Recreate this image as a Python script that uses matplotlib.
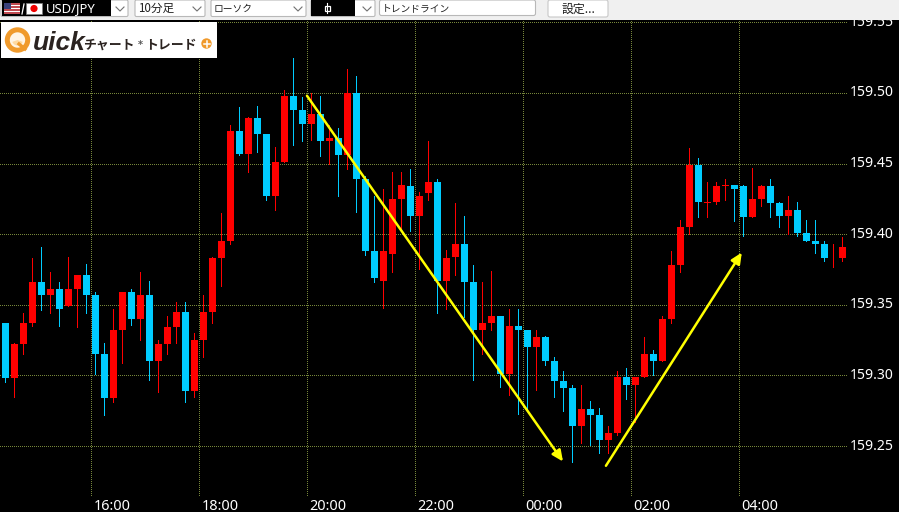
import numpy as np
import matplotlib
matplotlib.use("Agg")
import matplotlib.pyplot as plt
from matplotlib.patches import Rectangle, Circle, FancyBboxPatch, Wedge
from matplotlib.transforms import ScaledTranslation

W, H = 899, 512
CJK = ['Noto Sans CJK JP', 'DejaVu Sans']

# 10 minute USD/JPY candles, first candle is index 0
opens = [159.337, 159.298, 159.322, 159.337, 159.366, 159.357, 159.361, 159.349, 159.361, 159.371,
         159.357, 159.315, 159.284, 159.332, 159.359, 159.340, 159.357, 159.310, 159.322, 159.334,
         159.345, 159.289, 159.325, 159.345, 159.383, 159.395, 159.473, 159.457, 159.482, 159.471,
         159.427, 159.451, 159.498, 159.488, 159.478, 159.485, 159.466, 159.468, 159.456, 159.500,
         159.439, 159.388, 159.367, 159.386, 159.425, 159.434, 159.413, 159.429, 159.437, 159.367,
         159.384, 159.393, 159.366, 159.332, 159.337, 159.342, 159.301, 159.335, 159.332, 159.320,
         159.327, 159.310, 159.296, 159.291, 159.264, 159.276, 159.272, 159.254, 159.259, 159.299,
         159.293, 159.299, 159.315, 159.310, 159.340, 159.378, 159.405, 159.449, 159.422, 159.423,
         159.434, 159.435, 159.434, 159.412, 159.425, 159.434, 159.422, 159.413, 159.417, 159.401,
         159.395, 159.393, 159.383, 159.383]
highs = [159.337, 159.323, 159.344, 159.383, 159.391, 159.373, 159.366, 159.384, 159.371, 159.379,
         159.359, 159.323, 159.347, 159.359, 159.361, 159.373, 159.367, 159.325, 159.342, 159.352,
         159.352, 159.330, 159.357, 159.384, 159.415, 159.477, 159.490, 159.483, 159.491, 159.471,
         159.462, 159.502, 159.525, 159.497, 159.500, 159.498, 159.477, 159.475, 159.517, 159.512,
         159.441, 159.427, 159.432, 159.444, 159.444, 159.446, 159.430, 159.466, 159.439, 159.389,
         159.422, 159.413, 159.378, 159.366, 159.374, 159.342, 159.347, 159.347, 159.332, 159.332,
         159.328, 159.313, 159.303, 159.293, 159.293, 159.282, 159.277, 159.264, 159.303, 159.305,
         159.299, 159.327, 159.318, 159.342, 159.388, 159.410, 159.461, 159.454, 159.437, 159.437,
         159.439, 159.435, 159.435, 159.447, 159.435, 159.439, 159.423, 159.427, 159.423, 159.410,
         159.410, 159.395, 159.393, 159.398]
lows = [159.295, 159.285, 159.315, 159.335, 159.346, 159.344, 159.335, 159.349, 159.334, 159.344,
        159.301, 159.272, 159.281, 159.309, 159.336, 159.325, 159.297, 159.288, 159.315, 159.323,
        159.281, 159.285, 159.313, 159.337, 159.363, 159.393, 159.456, 159.444, 159.458, 159.424,
        159.417, 159.451, 159.463, 159.466, 159.467, 159.455, 159.450, 159.427, 159.446, 159.416,
        159.385, 159.366, 159.348, 159.373, 159.403, 159.402, 159.375, 159.424, 159.344, 159.347,
        159.371, 159.341, 159.297, 159.315, 159.332, 159.292, 159.286, 159.273, 159.276, 159.290,
        159.307, 159.285, 159.275, 159.239, 159.252, 159.251, 159.245, 159.245, 159.258, 159.283,
        159.267, 159.299, 159.300, 159.310, 159.337, 159.373, 159.400, 159.412, 159.412, 159.421,
        159.424, 159.409, 159.399, 159.412, 159.420, 159.412, 159.405, 159.400, 159.399, 159.395,
        159.387, 159.381, 159.377, 159.381]
closes = [159.298, 159.322, 159.337, 159.366, 159.357, 159.361, 159.347, 159.361, 159.371, 159.357,
          159.315, 159.284, 159.332, 159.359, 159.340, 159.357, 159.310, 159.322, 159.334, 159.345,
          159.289, 159.325, 159.345, 159.383, 159.395, 159.473, 159.457, 159.482, 159.471, 159.427,
          159.451, 159.498, 159.488, 159.478, 159.485, 159.466, 159.468, 159.456, 159.500, 159.439,
          159.388, 159.369, 159.388, 159.425, 159.435, 159.413, 159.427, 159.437, 159.367, 159.383,
          159.393, 159.366, 159.332, 159.337, 159.342, 159.301, 159.335, 159.332, 159.320, 159.327,
          159.310, 159.296, 159.291, 159.264, 159.276, 159.272, 159.254, 159.259, 159.299, 159.293,
          159.299, 159.315, 159.310, 159.340, 159.378, 159.405, 159.449, 159.423, 159.423, 159.434,
          159.435, 159.432, 159.412, 159.425, 159.434, 159.422, 159.413, 159.417, 159.401, 159.395,
          159.393, 159.383, 159.383, 159.391]

price_ticks = [159.25, 159.30, 159.35, 159.40, 159.45, 159.50, 159.55]
time_ticks = [9.556, 21.556, 33.556, 45.556, 57.556, 69.556, 81.556]
time_labels = ["16:00", "18:00", "20:00", "22:00", "00:00", "02:00", "04:00"]

# hand drawn trend lines (candle index, price)
down_line = [(33.5, 159.498), (61.95, 159.239)]
up_line = [(66.72, 159.236), (81.82, 159.387)]

UP = '#ff0000'
DOWN = '#00ccff'
GRID = '#76863a'

opens = np.array(opens)
closes = np.array(closes)
idx = np.arange(len(opens))

fig = plt.figure(figsize=(W / 100, H / 100), dpi=100, facecolor='black')
ax = fig.add_axes([0, (H - 497) / H, 847 / W, 477 / H], facecolor='black')
# 5.45 rather than 5.5 so wick and body snap to the same pixel column on every candle
ax.set_xlim((0 - 5.45) / 9, (847 - 5.45) / 9)
ax.set_ylim(159.5 + (92.9 - 497) * 0.000708, 159.5 + (92.9 - 20) * 0.000708)

ax.set_axisbelow(True)
ax.grid(True, color=GRID, lw=0.72, linestyle=(0, (0.8, 1.2)), antialiased=False)
for s in ax.spines.values():
    s.set_visible(False)

colors = [UP if c >= o else DOWN for o, c in zip(opens, closes)]
ax.vlines(idx, lows, highs, colors=colors, lw=0.72, antialiased=False, zorder=2)
tops = np.maximum(opens, closes)
bots = np.minimum(opens, closes)
ax.bar(idx, tops - bots, bottom=bots, width=7 / 9, color=colors, antialiased=False, zorder=3)

for line in (down_line, up_line):
    ax.annotate('', xy=line[1], xytext=line[0], zorder=4,
                arrowprops=dict(arrowstyle='-|>,head_length=0.65,head_width=0.3', color='#ffff00',
                                lw=1.8, shrinkA=0, shrinkB=0, mutation_scale=10))

ax.yaxis.tick_right()
ax.set_yticks(price_ticks)
ax.set_yticklabels(['%.2f' % p for p in price_ticks], family='Noto Sans', fontsize=10.1, color='white')
ax.set_xticks(time_ticks)
ax.set_xticklabels(time_labels, family='Noto Sans', fontsize=10.4, color='white', ha='left')
ax.tick_params(axis='y', length=0, pad=2)
ax.tick_params(axis='x', length=0, pad=1.5)
up_2px = ScaledTranslation(0, 2 / 100, fig.dpi_scale_trans)
for lab in ax.get_yticklabels():
    lab.set_va('center_baseline')
    lab.set_transform(lab.get_transform() + up_2px)
right_2px = ScaledTranslation(2 / 100, 0, fig.dpi_scale_trans)
for lab in ax.get_xticklabels():
    lab.set_transform(lab.get_transform() + right_2px)

# toolbar and logo go on a pixel layer above the chart
top = fig.add_axes([0, 0, 1, 1], zorder=5)
top.set_xlim(0, W)
top.set_ylim(H, 0)
top.axis('off')
top.patch.set_alpha(0)

top.add_patch(Rectangle((0, 0), W, 20, fc='#f0f0f0', ec='none'))


def combo(x0, x1, label=None, size=8.6):
    top.add_patch(FancyBboxPatch((x0 + 1, 0), x1 - x0 - 2, 16.5, boxstyle='round,pad=0,rounding_size=1.5',
                                 fc='white', ec='#b8b8b8', lw=0.8))
    top.plot([x1 - 13, x1 - 9, x1 - 5], [7, 11, 7], color='#707070', lw=0.8)
    if label:
        top.text(x0 + 4, 8.5, label, family=CJK, fontsize=size, color='#202020', va='center', ha='left')


combo(0, 129)
top.add_patch(Rectangle((2, 0), 109, 16, fc='black', ec='none'))
# flags
top.add_patch(Rectangle((4, 3), 16, 11, fc='white', ec='none'))
for i in range(0, 7, 2):
    top.add_patch(Rectangle((4, 3 + i * 11 / 7), 16, 11 / 7, fc='#c04a50', ec='none'))
top.add_patch(Rectangle((4, 3), 7, 6, fc='#39407a', ec='none'))
top.plot([22, 24], [14, 4], color='white', lw=0.9)
top.add_patch(Rectangle((26, 3), 16, 11, fc='white', ec='#808080', lw=0.5))
top.add_patch(Circle((34, 8.5), 3.6, fc='#f00000', ec='none'))
top.text(45.5, 8.8, 'USD/JPY', family='Noto Sans', fontsize=9.4, color='white', va='center', ha='left')

combo(134, 206, '10分足', 8.4)
combo(210, 307, 'ローソク', 7.0)
combo(310, 376)
top.add_patch(Rectangle((311, 0), 44, 16, fc='black', ec='none'))
top.plot([327, 327], [3, 13], color='white', lw=0.8)
top.add_patch(Rectangle((324.5, 5.5), 5, 5, fc='black', ec='white', lw=0.9))

top.add_patch(FancyBboxPatch((379.5, 0), 156, 15.5, boxstyle='round,pad=0,rounding_size=2',
                             fc='white', ec='#b8b8b8', lw=0.8))
top.text(382, 8.5, 'トレンドライン', family=CJK, fontsize=7, color='#202020', va='center', ha='left')
top.add_patch(FancyBboxPatch((548, 0), 60, 17, boxstyle='round,pad=0,rounding_size=2',
                             fc='white', ec='#c8c8c8', lw=0.8))
top.text(578, 9.5, '設定...', family=CJK, fontsize=8.6, color='#202020', va='center', ha='center')

# logo
top.add_patch(Rectangle((1, 22), 216, 36, fc='white', ec='none'))
top.add_patch(Circle((17.5, 40), 10.2, fc='#fff4e4', ec='#f09a2c', lw=3.6))
top.add_patch(Wedge((17.5, 40), 5.5, 20, 160, fc='#ffd9a0', ec='none'))
top.plot([19, 25], [44, 49], color='#f09a2c', lw=2.4)
top.text(32.5, 49.5, 'uick', family='Liberation Sans', style='italic', weight='bold', fontsize=19,
         color='#2b2320', va='baseline', ha='left')
top.text(83, 49, 'チャート', family=CJK, weight='bold', fontsize=9.3, color='#2b2320', va='baseline', ha='left')
top.text(138, 48, '*', family='DejaVu Sans', weight='bold', fontsize=7, color='#555555', va='baseline', ha='left')
top.text(145.5, 49, 'トレード', family=CJK, weight='bold', fontsize=9.3, color='#2b2320', va='baseline', ha='left')
top.add_patch(Circle((206.5, 43.5), 5.2, fc='#f09a2c', ec='none'))
top.plot([203.5, 209.5], [43.5, 43.5], color='white', lw=1.1)
top.plot([206.5, 206.5], [40.5, 46.5], color='white', lw=1.1)

fig.savefig('out.png', dpi=100, facecolor='black')
